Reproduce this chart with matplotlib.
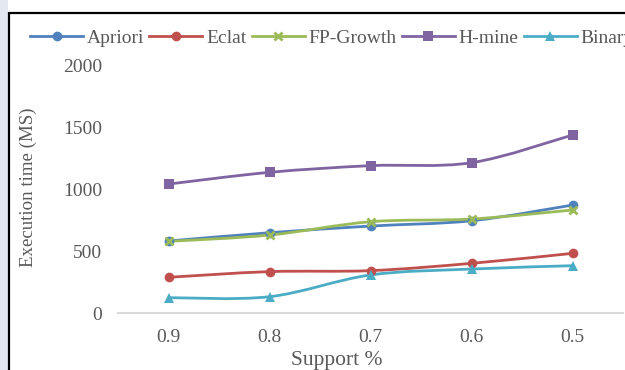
import matplotlib.pyplot as plt
import numpy as np
from matplotlib.path import Path
from matplotlib.patches import PathPatch, Rectangle
from matplotlib.lines import Line2D

plt.rcParams['font.family'] = ['Liberation Serif', 'DejaVu Serif']

support = ['0.9', '0.8', '0.7', '0.6', '0.5']
apriori = [583, 650, 704, 747, 874]
eclat = [289, 335, 343, 402, 483]
fp_growth = [580, 631, 739, 761, 834]
h_mine = [1044, 1139, 1193, 1217, 1441]
binary = [124, 132, 308, 356, 383]

series = [
    ('Apriori', apriori, '#4F81BD', 'o', 7),
    ('Eclat', eclat, '#C0504D', 'o', 7),
    ('FP-Growth', fp_growth, '#9BBB59', 'x', 6),
    ('H-mine', h_mine, '#8064A2', 's', 6.5),
    ('Binary', binary, '#4BACC6', '^', 7),
]


def smooth_path(xs, ys):
    # catmull-rom style bezier, like excel's smoothed line
    pts = np.column_stack([xs, ys]).astype(float)
    ext = np.vstack([pts[0], pts, pts[-1]])
    verts = [pts[0]]
    codes = [Path.MOVETO]
    for i in range(len(pts) - 1):
        p0, p1, p2, p3 = ext[i], ext[i + 1], ext[i + 2], ext[i + 3]
        verts += [p1 + (p2 - p0) / 6, p2 - (p3 - p1) / 6, p2]
        codes += [Path.CURVE4] * 3
    return Path(verts, codes)


fig = plt.figure(figsize=(6.25, 3.7), dpi=100)
fig.patch.set_facecolor('white')
fig.add_artist(Rectangle((0, 0), 8 / 625, 1, transform=fig.transFigure,
                         facecolor='#e4e8f0', edgecolor='none'))
fig.add_artist(Rectangle((9 / 625, -0.2), 1.5, 1.2 - 13 / 370,
                         transform=fig.transFigure, facecolor='none',
                         edgecolor='black', linewidth=1.6))

ax = fig.add_axes([118 / 625, 1 - 313 / 370, 505 / 625, 247 / 370])
x = np.arange(len(support))
handles = []
for name, vals, color, marker, ms in series:
    ax.add_patch(PathPatch(smooth_path(x, vals), facecolor='none',
                           edgecolor=color, linewidth=2.0, zorder=2))
    mew = 2 if marker == 'x' else 0
    ax.plot(x, vals, linestyle='none', marker=marker, markersize=ms,
            color=color, markeredgewidth=mew, zorder=3)
    handles.append(Line2D([], [], color=color, linewidth=2.0, marker=marker,
                          markersize=ms, markeredgewidth=mew, label=name))

ax.set_xlim(-0.5, 4.5)
ax.set_ylim(0, 2000)
ax.set_xticks(x)
ax.set_xticklabels(support)
ax.set_yticks([0, 500, 1000, 1500, 2000])
for side in ['top', 'right', 'left']:
    ax.spines[side].set_visible(False)
ax.spines['bottom'].set_color('#d9d9d9')
ax.spines['bottom'].set_linewidth(1.5)
ax.tick_params(axis='both', length=0, labelsize=14, colors='#595959')
ax.tick_params(axis='y', pad=11.5)
ax.tick_params(axis='x', pad=11.5)

ax.set_xlabel('Support %', fontsize=15.5, color='#595959')
ax.xaxis.label.set_va('center')
ax.xaxis.set_label_coords((337 - 118) / 505, (313 - 360) / 247)
ax.set_ylabel('Execution time (MS)', fontsize=13.6, color='#595959')
ax.yaxis.set_label_coords((37 - 118) / 505, (313 - 187) / 247)

fig.legend(handles=handles, loc='center left', ncol=5, frameon=False,
           bbox_to_anchor=(30 / 625, 1 - 38 / 370), fontsize=14,
           handlelength=2.73, handletextpad=0.2, columnspacing=0.26,
           borderaxespad=0, borderpad=0, labelcolor='#595959')

plt.savefig('out.png', dpi=100)
